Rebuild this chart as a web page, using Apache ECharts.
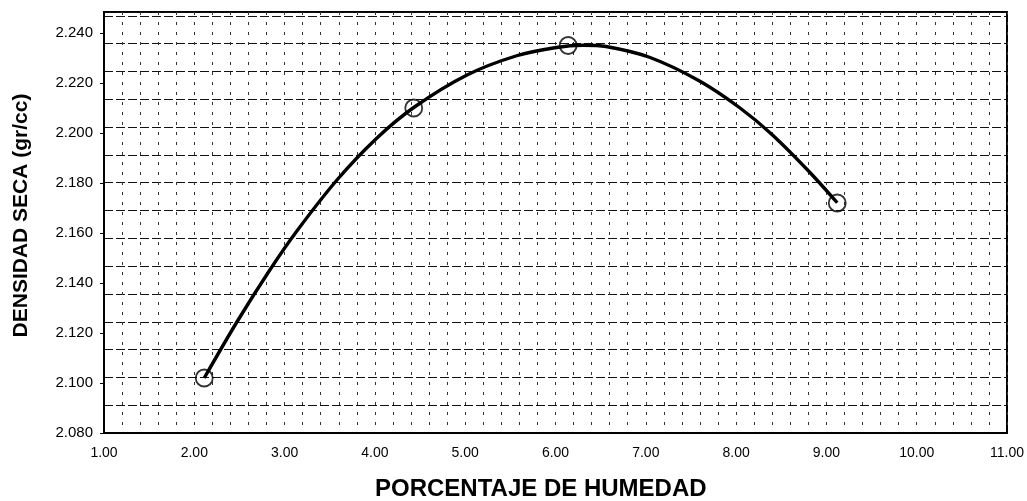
<!DOCTYPE html>
<html>
<head>
<meta charset="utf-8">
<title>Densidad seca vs. porcentaje de humedad</title>
<script src="https://cdn.jsdelivr.net/npm/echarts@6/dist/echarts.min.js"></script>
<style>
  html, body { margin: 0; padding: 0; background: #fff; }
  #chart { width: 1027px; height: 501px; }
</style>
</head>
<body>
<div id="chart"></div>
<script>
// Ensayo Proctor: puntos medidos (humedad %, densidad seca gr/cc)
const humedad = [2.11, 4.43, 6.14, 9.12];
const densidad = [2.102, 2.210, 2.235, 2.172];

// Curva de compactación trazada entre los puntos
const curvaHumedad = [2.11, 2.47, 2.84, 3.14, 3.58, 4.02, 4.43, 5.02, 5.57, 6.01, 6.30, 6.56, 7.04, 7.59, 8.04, 8.40, 8.81, 9.12];
const curvaDensidad = [2.102, 2.1243, 2.1454, 2.161, 2.1812, 2.1979, 2.2102, 2.2232, 2.2309, 2.2342, 2.2351, 2.2346, 2.2303, 2.2209, 2.2101, 2.1993, 2.1845, 2.1721];

// Ejes
const xMin = 1, xMax = 11, xStep = 1;
const yMin = 2.08, yMax = 2.2484, yStep = 0.02;
// Cuadrícula de fondo horizontal (15 divisiones)
const gridRows = 15, gridRowsMax = 15.14;

const tituloX = 'PORCENTAJE DE HUMEDAD';
const tituloY = 'DENSIDAD SECA (gr/cc)';

const font = 'Liberation Sans, Arial, Helvetica, sans-serif';

const chart = echarts.init(document.getElementById('chart'), null, { renderer: 'canvas' });

const option = {
  backgroundColor: '#ffffff',
  animation: false,
  title: {
    text: tituloX,
    left: 370,
    top: 472,
    textStyle: { fontFamily: font, fontSize: 24, fontWeight: 'bold', color: '#000' }
  },
  grid: {
    left: 104, right: 19, top: 12, bottom: 68,
    show: true, borderColor: '#000', borderWidth: 2, backgroundColor: 'transparent'
  },
  xAxis: {
    type: 'value',
    min: xMin, max: xMax, interval: xStep,
    axisLine: { show: true, lineStyle: { color: '#000', width: 2 } },
    axisTick: { show: false },
    axisLabel: {
      margin: 13,
      fontFamily: font, fontSize: 14, color: '#000',
      formatter: v => v.toFixed(2)
    },
    splitLine: { show: true, lineStyle: { color: '#333', width: 1, type: [3, 7] } },
    minorTick: { show: false, splitNumber: 5 },
    minorSplitLine: { show: true, lineStyle: { color: '#333', width: 1, type: [3, 7] } }
  },
  yAxis: [
    {
      type: 'value',
      min: yMin, max: yMax, interval: yStep,
      axisLine: { show: true, lineStyle: { color: '#000', width: 2 } },
      axisTick: { show: true, length: 4, lineStyle: { color: '#000' } },
      axisLabel: {
        margin: 11, showMaxLabel: false,
        fontFamily: font, fontSize: 15, color: '#000',
        formatter: v => v.toFixed(3)
      },
      splitLine: { show: false },
      name: tituloY,
      nameLocation: 'middle',
      nameRotate: 90,
      nameGap: 72,
      nameTextStyle: {
        fontFamily: font, fontSize: 21, fontWeight: 'bold', color: '#000',
        padding: [0, 0, 0, 14]
      }
    },
    {
      type: 'value',
      position: 'right',
      min: 0, max: gridRowsMax, interval: 1,
      splitNumber: gridRows,
      axisLine: { show: false },
      axisTick: { show: false },
      axisLabel: { show: false },
      splitLine: { show: true, lineStyle: { color: '#111', width: 1, type: [9, 3] } }
    }
  ],
  series: [
    {
      name: 'curva',
      type: 'line',
      yAxisIndex: 0,
      data: curvaHumedad.map((h, i) => [h, curvaDensidad[i]]),
      smooth: 0.3,
      showSymbol: false,
      lineStyle: { color: '#000', width: 3.4 },
      z: 3
    },
    {
      name: 'ensayos',
      type: 'scatter',
      yAxisIndex: 0,
      data: humedad.map((h, i) => [h, densidad[i]]),
      symbol: 'circle',
      symbolSize: 17,
      itemStyle: { color: 'rgba(0,0,0,0)', borderColor: '#000', borderWidth: 1.8 },
      z: 4
    }
  ]
};

chart.setOption(option);
</script>
</body>
</html>
